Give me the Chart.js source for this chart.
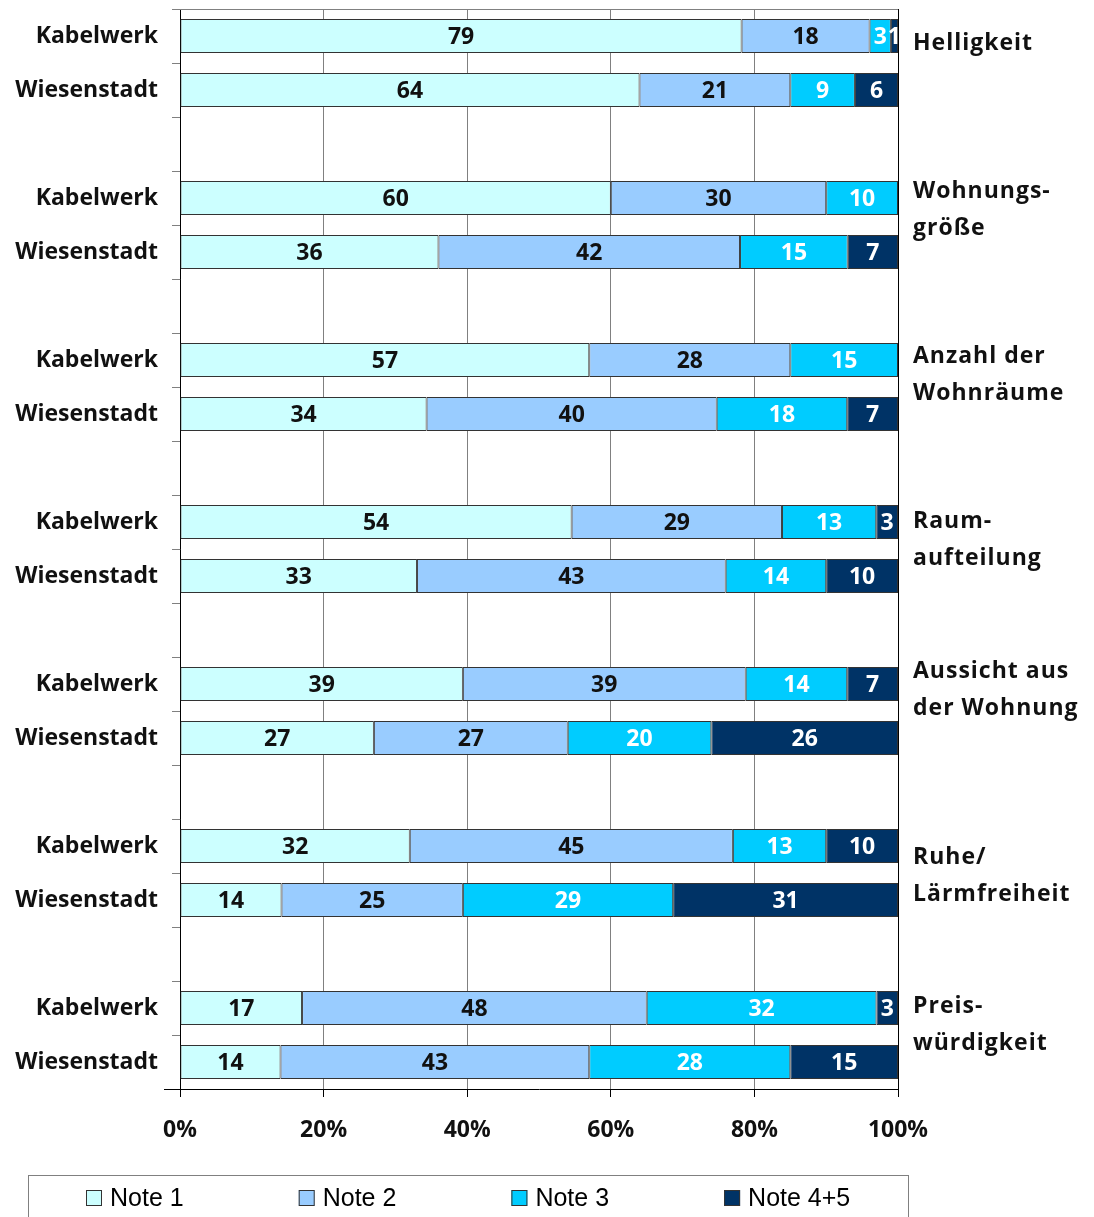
<!DOCTYPE html>
<html>
<head>
<meta charset="utf-8">
<script src="https://cdn.jsdelivr.net/npm/chart.js@4/dist/chart.umd.min.js"></script>
<style>
  html, body { margin: 0; padding: 0; background: #fff; }
  #wrap { width: 1094px; height: 1217px; position: relative; }
</style>
</head>
<body>
<div id="wrap"><canvas id="c" width="1094" height="1217"></canvas></div>
<script>
// ---- data ----
const groups = ['Helligkeit', 'Wohnungs-\ngröße', 'Anzahl der\nWohnräume', 'Raum-\naufteilung', 'Aussicht aus\nder Wohnung', 'Ruhe/\nLärmfreiheit', 'Preis-\nwürdigkeit'];
const sites = ['Kabelwerk', 'Wiesenstadt'];
const seriesNames = ['Note 1', 'Note 2', 'Note 3', 'Note 4+5'];
// pairs: Kabelwerk, Wiesenstadt per group
const note1  = [79, 64, 60, 36, 57, 34, 54, 33, 39, 27, 32, 14, 17, 14];
const note2  = [18, 21, 30, 42, 28, 40, 29, 43, 39, 27, 45, 25, 48, 43];
const note3  = [3, 9, 10, 15, 15, 18, 13, 14, 14, 20, 13, 29, 32, 28];
const note45 = [1, 6, 0, 7, 0, 7, 3, 10, 7, 26, 10, 31, 3, 15];
const xTickStep = 20;

// ---- style ----
const colors = ['#CCFFFF', '#99CCFF', '#00CCFF', '#003366'];
const labelColors = ['#111', '#111', '#fff', '#fff'];
const groupLabelNudge = [7, 12, 15, 18, 6, 30, 17];
const FONT = "'Open Sans', 'Noto Sans', sans-serif";

// ---- build table ----
const series = [note1, note2, note3, note45];
const slots = [];
const slotIndex = []; // slot -> data row index or -1
groups.forEach((g, gi) => {
  sites.forEach((s, si) => { slots.push(s); slotIndex.push(gi * 2 + si); });
  if (gi < groups.length - 1) { slots.push(''); slotIndex.push(-1); }
});
const totals = note1.map((v, i) => note1[i] + note2[i] + note3[i] + note45[i]);
const datasets = series.map((arr, k) => ({
  label: seriesNames[k],
  data: slotIndex.map(r => r < 0 ? null : arr[r] / totals[r] * 100),
  counts: slotIndex.map(r => r < 0 ? null : arr[r]),
  backgroundColor: colors[k],
  borderColor: '#333',
  borderWidth: 1,
  borderSkipped: false,
  categoryPercentage: 1,
  barPercentage: 0.63
}));

const valueLabels = {
  id: 'valueLabels',
  afterDatasetsDraw(chart) {
    const ctx = chart.ctx;
    ctx.save();
    ctx.font = "bold 23px " + FONT;
    ctx.textAlign = 'center';
    ctx.textBaseline = 'middle';
    chart.data.datasets.forEach((ds, i) => {
      const meta = chart.getDatasetMeta(i);
      meta.data.forEach((el, j) => {
        const v = ds.counts[j];
        if (!v) return;
        const p = el.getCenterPoint();
        ctx.fillStyle = labelColors[i];
        ctx.fillText(String(v), p.x, p.y + 1);
      });
    });
    ctx.restore();
  }
};

const frame = {
  id: 'frame',
  afterDraw(chart) {
    const ctx = chart.ctx;
    const a = chart.chartArea;
    const y = chart.scales.y;
    ctx.save();
    // top border
    ctx.strokeStyle = '#808080';
    ctx.lineWidth = 1;
    ctx.beginPath();
    ctx.moveTo(a.left, Math.round(a.top) + 0.5);
    ctx.lineTo(a.right, Math.round(a.top) + 0.5);
    ctx.stroke();
    // bottom axis extension to the left
    ctx.strokeStyle = '#000';
    ctx.beginPath();
    ctx.moveTo(a.left - 16, Math.round(a.bottom) + 0.5);
    ctx.lineTo(a.left, Math.round(a.bottom) + 0.5);
    ctx.stroke();
    // group labels on the right
    ctx.fillStyle = '#111';
    ctx.font = "bold 23px " + FONT;
    ctx.letterSpacing = '1px';
    ctx.textAlign = 'left';
    ctx.textBaseline = 'middle';
    groups.forEach((g, gi) => {
      const lines = g.split('\n');
      const slot = gi * 3;
      const cy = y.getPixelForValue(slot) + groupLabelNudge[gi];
      const lh = 37;
      const start = cy - (lines.length - 1) * lh / 2;
      lines.forEach((ln, li) => ctx.fillText(ln, a.right + 15, start + li * lh));
    });
    ctx.letterSpacing = '0px';
    // legend
    ctx.strokeStyle = '#808080';
    ctx.strokeRect(28.5, 1175.5, 880, 80);
    ctx.font = "25px 'Liberation Sans', Arial, sans-serif";
    ctx.textBaseline = 'middle';
    chart.data.datasets.forEach((ds, i) => {
      const x0 = 86 + i * 212.7;
      ctx.fillStyle = ds.backgroundColor;
      ctx.fillRect(x0, 1190, 16, 16);
      ctx.strokeStyle = '#333';
      ctx.strokeRect(x0 + 0.5, 1190.5, 15, 15);
      ctx.fillStyle = '#000';
      ctx.fillText(ds.label, x0 + 24, 1199);
    });
    ctx.restore();
  }
};

new Chart(document.getElementById('c'), {
  type: 'bar',
  data: { labels: slots, datasets },
  options: {
    indexAxis: 'y',
    responsive: false,
    animation: false,
    layout: { padding: { top: 9, right: 196, bottom: 0, left: 0 } },
    plugins: { legend: { display: false }, tooltip: { enabled: false } },
    scales: {
      x: {
        stacked: true,
        min: 0, max: 100,
        ticks: {
          stepSize: xTickStep,
          callback: v => v + '%',
          color: '#111',
          font: { family: FONT, size: 23, weight: 'bold' },
          padding: 20,
          maxRotation: 0
        },
        grid: {
          color: ctx => (ctx.tick && ctx.tick.value === 100) ? '#000' : '#808080',
          lineWidth: 1,
          drawTicks: true,
          tickLength: 8,
          tickColor: '#000'
        },
        border: { color: '#000', width: 1 },
        afterFit(s) { s.height = 1217 - 1089; }
      },
      y: {
        stacked: true,
        ticks: {
          color: '#111',
          font: { family: FONT, size: 23, weight: 'bold' },
          padding: 14,
          autoSkip: false
        },
        grid: {
          drawOnChartArea: false,
          drawTicks: true,
          tickLength: 8,
          color: '#808080',
          offset: true
        },
        border: { color: '#000', width: 1 },
        afterFit(s) { s.width = 180; s.paddingTop = 0; s.paddingBottom = 0; }
      }
    }
  },
  plugins: [valueLabels, frame]
});
</script>
</body>
</html>
